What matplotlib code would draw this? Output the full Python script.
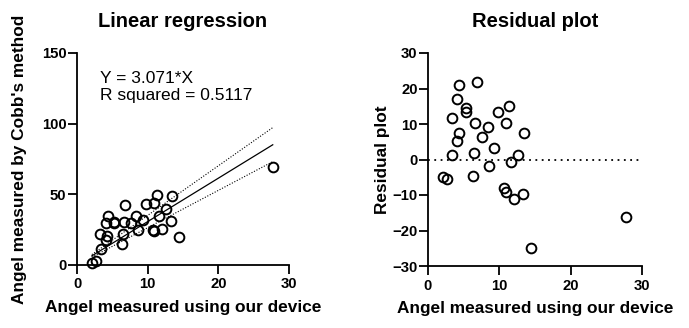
import matplotlib.pyplot as plt
import numpy as np

# values
device_angle = [2.1, 2.7, 3.3, 3.4, 4.1, 4.4, 4.3, 4.1, 5.3, 5.3,
                6.6, 6.5, 6.3, 6.8, 7.6, 8.4, 8.6, 9.3, 9.8, 10.9,
                11.3, 10.7, 10.9, 11.6, 12.0, 12.6, 13.3, 13.4, 14.5, 27.7]
cobb_angle = [1.5, 2.9, 21.6, 11.6, 29.7, 34.5, 20.7, 17.8, 30.7, 29.6,
              30.7, 21.6, 14.8, 42.8, 29.9, 34.8, 24.6, 31.8, 43.5, 43.7,
              49.8, 24.9, 24.4, 34.8, 25.7, 39.8, 30.9, 48.7, 19.6, 69.1]
residuals = [-5.0, -5.5, 11.6, 1.2, 17.1, 20.9, 7.4, 5.2, 14.5, 13.4,
             10.4, 1.8, -4.6, 21.8, 6.4, 9.2, -1.7, 3.1, 13.5, 10.4,
             15.0, -8.0, -9.2, -0.7, -11.2, 1.3, -9.8, 7.4, -25.0, -16.1]
slope = 3.071
slope_ci = (2.64, 3.51)
r_squared = 0.5117

plt.rcParams['font.family'] = ['Liberation Sans', 'DejaVu Sans']

fig = plt.figure(figsize=(6.89, 3.28), dpi=100)
ax1 = fig.add_axes([77/689, 1-265/328, 212/689, 212/328])
ax2 = fig.add_axes([428/689, 1-266/328, 214/689, 213/328])

for ax in (ax1, ax2):
    ax.spines['top'].set_visible(False)
    ax.spines['right'].set_visible(False)
    ax.spines['left'].set_linewidth(1.3)
    ax.spines['bottom'].set_linewidth(1.3)
    ax.tick_params(direction='out', length=6.5, width=1.3, labelsize=10.7)
    ax.tick_params(axis='y', pad=1)
    ax.tick_params(axis='x', pad=2.5)
    ax.set_xlim(0, 30)
    ax.set_xticks([0, 10, 20, 30])
    ax.set_xlabel('Angel measured using our device', fontsize=12.4, fontweight='bold', labelpad=6)

# Linear regression
xs = np.array([min(device_angle), max(device_angle)])
ax1.plot(xs, slope * xs, color='black', linewidth=0.9)
ax1.plot(xs, slope_ci[0] * xs, color='black', linewidth=0.8, linestyle=(0, (1, 1.5)))
ax1.plot(xs, slope_ci[1] * xs, color='black', linewidth=0.8, linestyle=(0, (1, 1.5)))
ax1.plot(device_angle, cobb_angle, 'o', markerfacecolor='none', markeredgecolor='black',
         markersize=7, markeredgewidth=1.4, clip_on=False)
ax1.set_ylim(0, 150)
ax1.set_yticks([0, 50, 100, 150])
ax1.set_ylabel("Angel measured by Cobb's method", fontsize=12.4, fontweight='bold', labelpad=11)
ax1.set_title('Linear regression', pad=19, fontsize=14.5, fontweight='bold')
ax1.text(3.3, 137, 'Y = %.3f*X\nR squared = %.4f' % (slope, r_squared),
         fontsize=12.5, va='top', ha='left', linespacing=1.15)

# Residual plot
ax2.axhline(0, color='black', linewidth=1.3, linestyle=(0, (1, 2.5)))
ax2.plot(device_angle, residuals, 'o', markerfacecolor='none', markeredgecolor='black',
         markersize=7, markeredgewidth=1.4, clip_on=False)
ax2.set_ylim(-30, 30)
ax2.set_yticks([-30, -20, -10, 0, 10, 20, 30])
ax2.set_ylabel('Residual plot', fontsize=12.4, fontweight='bold', labelpad=2)
ax2.set_title('Residual plot', pad=19, fontsize=14.5, fontweight='bold')

for ax in (ax1, ax2):
    for lab in ax.get_xticklabels() + ax.get_yticklabels():
        lab.set_fontweight('bold')

fig.savefig('out.png', dpi=100)
